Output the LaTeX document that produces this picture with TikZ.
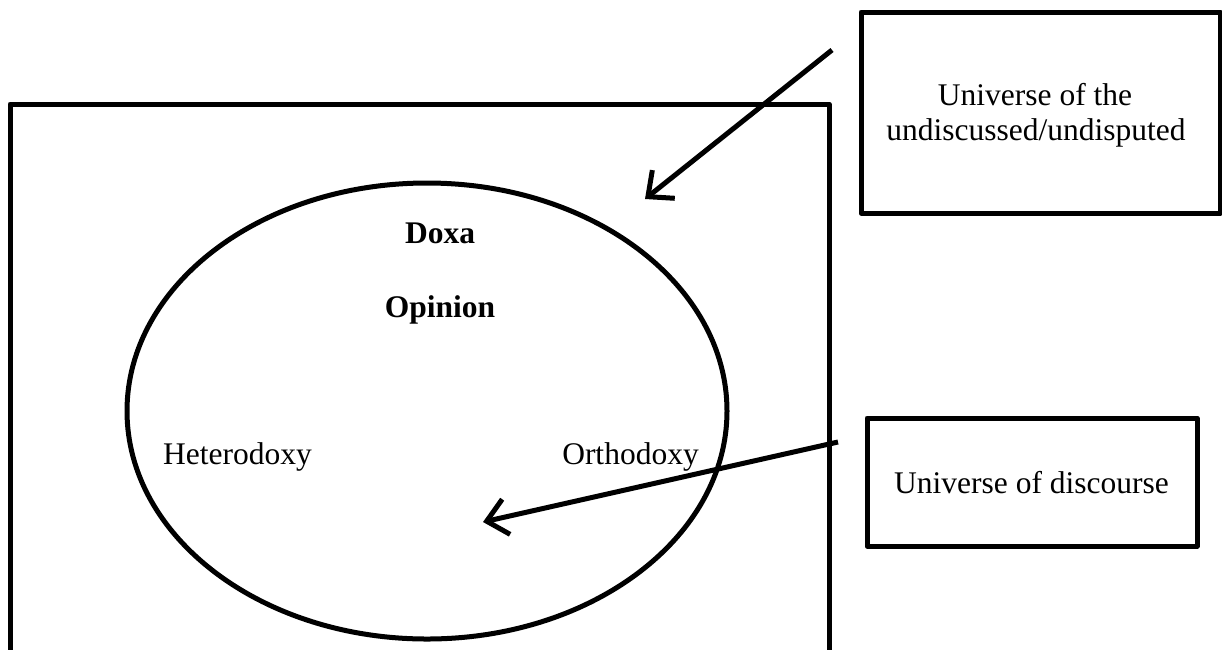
\documentclass[tikz,border=0pt]{standalone}
\usepackage{fontspec}
\setmainfont{Liberation Serif}
\usetikzlibrary{arrows.meta,shapes.geometric}
\begin{document}
\begin{tikzpicture}[x=1pt,y=-1pt,
  every node/.style={font=\fontsize{31.5}{36}\selectfont},
  frame/.style={draw,line width=5pt,line join=round},
  label/.style={inner sep=0pt,anchor=base},
  strong/.style={label,font=\fontsize{31.5}{36}\selectfont\bfseries},
  pointer/.style={line width=5pt,-{Straight Barb[length=20pt,width=36pt]}}]
  \useasboundingbox (0,0) rectangle (1222,649);
  \clip (0,0) rectangle (1222,649);
  % outer universe
  \draw[frame] (10,104) rectangle (829,720);
  % doxa ellipse
  \node[frame,ellipse,minimum width=600pt,minimum height=456pt] (doxa) at (427,411) {};
  \node[strong] (dx) at (440,243) {Doxa};
  \node[strong] (op) at (440,317) {Opinion};
  \node[label] (het) at (237.5,464) {Heterodoxy};
  \node[label] (orth) at (630.5,464) {Orthodoxy};
  % side boxes
  \node[frame,minimum width=359pt,minimum height=201pt] (undisc) at (1040.5,112.5) {};
  \node[label] (undiscA) at (1035,105) {Universe of the};
  \node[label] (undiscB) at (1036,140) {undiscussed/undisputed};
  \node[frame,minimum width=330pt,minimum height=128pt] (disc) at (1032,482) {};
  \node[label] (disctext) at (1031.5,493) {Universe of discourse};
  % pointers
  \coordinate (a1s) at (832,50);
  \coordinate (a1e) at (645,199);
  \coordinate (a2s) at (838,442);
  \coordinate (a2e) at (483,522);
  \draw[pointer] (a1s) -- (a1e);
  \draw[pointer] (a2s) -- (a2e);
\end{tikzpicture}
\end{document}
